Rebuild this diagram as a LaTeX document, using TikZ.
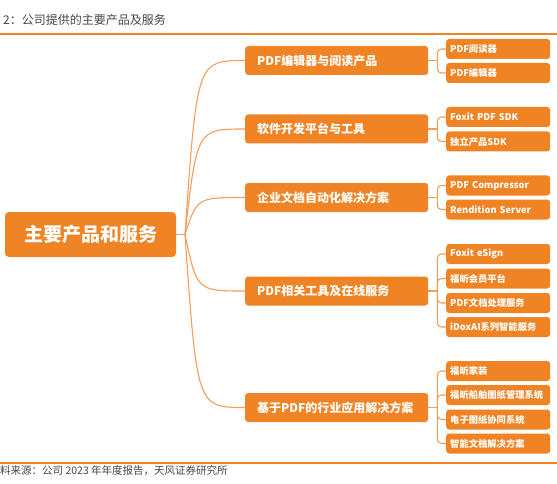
\documentclass[tikz,border=0pt]{standalone}
\usepackage{fontspec}
\setmainfont{Noto Sans CJK SC}
\usetikzlibrary{calc}
\definecolor{boxorange}{RGB}{240,132,36}
\definecolor{lineorange}{RGB}{245,158,90}
\definecolor{textgrey}{RGB}{70,70,70}
\tikzset{
  mainbox/.style={fill=boxorange, rounded corners=4pt, text=white, minimum width=171pt, minimum height=45pt, font=\fontsize{19}{19}\selectfont\bfseries},
  catbox/.style={fill=boxorange, rounded corners=3pt, text=white, anchor=west, align=left, text width=159pt, inner xsep=12pt, inner ysep=1pt, minimum height=29pt, font=\fontsize{12}{12}\selectfont\bfseries},
  itembox/.style={fill=boxorange, rounded corners=3pt, text=white, anchor=west, align=left, text width=96pt, inner xsep=4pt, inner ysep=1pt, minimum height=20pt, font=\fontsize{9.3}{9.3}\selectfont\bfseries},
  link/.style={draw=lineorange, line width=1.1pt},
}
\begin{document}
\begin{tikzpicture}[x=1pt, y=-1pt]
    \useasboundingbox (0,0) rectangle (557,484);
    \node[anchor=west, text=textgrey, font=\fontsize{12}{12}\selectfont, inner sep=0pt] (title) at (3,20) {2：公司提供的主要产品及服务};
    \draw[boxorange, line width=1.2pt] (0,34) -- (557,34);
    \draw[boxorange, line width=1.2pt] (0,463) -- (557,463);
    \node[anchor=west, text=textgrey, font=\fontsize{10.5}{10.5}\selectfont, inner sep=0pt] (source) at (0,471) {料来源：公司 2023 年年度报告，天风证券研究所};

    \node[mainbox] (main) at (90.5,234.5) {主要产品和服务};
    \coordinate (j) at (185,234.5);

    \node[catbox] (pdfedit) at (245,60.5) {PDF编辑器与阅读产品};
    \node[catbox] (sdk) at (245,129) {软件开发平台与工具};
    \node[catbox] (auto) at (245,197.5) {企业文档自动化解决方案};
    \node[catbox] (online) at (245,291) {PDF相关工具及在线服务};
    \node[catbox] (industry) at (245,407.5) {基于PDF的行业应用解决方案};

    \node[itembox] (reader) at (446,49) {PDF阅读器};
    \node[itembox] (editor) at (446,73) {PDF编辑器};
    \node[itembox] (foxitsdk) at (446,117) {Foxit PDF SDK};
    \node[itembox] (standalone) at (446,141.5) {独立产品SDK};
    \node[itembox] (compressor) at (446,185.5) {PDF Compressor};
    \node[itembox] (rendition) at (446,209.5) {Rendition Server};
    \node[itembox] (esign) at (446,254) {Foxit eSign};
    \node[itembox] (member) at (446,278.5) {福昕会员平台};
    \node[itembox] (docservice) at (446,303) {PDF文档处理服务};
    \node[itembox] (idoxai) at (446,327) {iDoxAI系列智能服务};
    \node[itembox] (home) at (446,371) {福昕家装};
    \node[itembox] (ship) at (446,395) {福昕船舶图纸管理系统};
    \node[itembox] (drawing) at (446,419.5) {电子图纸协同系统};
    \node[itembox] (smartdoc) at (446,443.5) {智能文档解决方案};

    \draw[link] (main.east) -- (j);
    \foreach \c in {pdfedit,sdk,auto,online,industry}
      \draw[link] (j) .. controls ($(j |- \c.west)+(12,0)$) .. (\c.west);

    \foreach \p/\a/\b in {pdfedit/reader/editor, sdk/foxitsdk/standalone, auto/compressor/rendition, online/esign/idoxai, industry/home/smartdoc} {
      \coordinate (b-\p) at ($(\p.east)+(9,0)$);
      \draw[link] (\p.east) -- (b-\p);
      \draw[link, rounded corners=4pt] (b-\p) |- (\a.west);
      \draw[link, rounded corners=4pt] (b-\p) |- (\b.west);
    }
    \foreach \p/\c in {online/member, online/docservice, industry/ship, industry/drawing}
      \draw[link, rounded corners=4pt] (b-\p) |- (\c.west);
  \end{tikzpicture}
\end{document}
